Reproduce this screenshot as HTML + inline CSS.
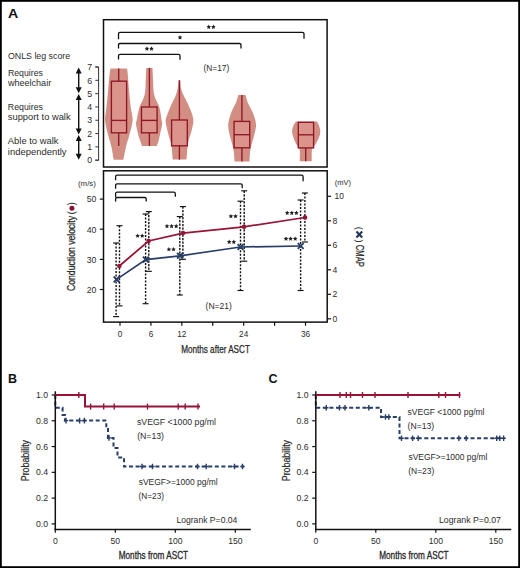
<!DOCTYPE html><html><head><meta charset="utf-8"><style>
html,body{margin:0;padding:0;background:#fff;}
svg{display:block;}
text{font-family:"Liberation Sans", sans-serif;}
</style></head><body>
<svg width="520" height="568" viewBox="0 0 520 568">
<rect x="0" y="0" width="520" height="568" fill="#fff"/>
<text x="8" y="18.2" font-size="13.2" text-anchor="start" fill="#111" font-weight="bold" textLength="10.2" lengthAdjust="spacingAndGlyphs" >A</text>
<path d="M127.10,68.40 C127.22,69.47 127.50,71.28 127.80,74.80 C128.10,78.32 128.40,84.00 128.90,89.50 C129.40,95.00 130.18,102.62 130.80,107.80 C131.42,112.98 132.85,116.02 132.60,120.60 C132.35,125.18 130.40,130.95 129.30,135.30 C128.20,139.65 126.98,142.62 126.00,146.70 C125.02,150.78 123.83,157.62 123.40,159.80 L113.70,159.80 C113.32,157.62 112.32,150.78 111.40,146.70 C110.48,142.62 109.25,139.65 108.20,135.30 C107.15,130.95 105.40,125.18 105.10,120.60 C104.80,116.02 105.88,112.98 106.40,107.80 C106.92,102.62 107.68,95.00 108.20,89.50 C108.72,84.00 109.10,78.32 109.50,74.80 C109.90,71.28 110.42,69.47 110.60,68.40Z" fill="#d38e84"/>
<path d="M152.50,67.90 C152.60,69.97 152.92,76.40 153.10,80.30 C153.28,84.20 153.22,88.25 153.60,91.30 C153.98,94.35 154.42,95.85 155.40,98.60 C156.38,101.35 158.45,104.13 159.50,107.80 C160.55,111.47 161.25,117.85 161.70,120.60 C162.15,123.35 162.52,121.85 162.20,124.30 C161.88,126.75 160.40,132.55 159.80,135.30 C159.20,138.05 159.12,139.03 158.60,140.80 C158.08,142.57 157.02,145.05 156.70,145.90 L142.00,145.90 C141.70,145.05 140.80,142.57 140.20,140.80 C139.60,139.03 139.10,138.05 138.40,135.30 C137.70,132.55 136.30,126.75 136.00,124.30 C135.70,121.85 136.05,123.35 136.60,120.60 C137.15,117.85 138.17,111.47 139.30,107.80 C140.43,104.13 142.42,101.35 143.40,98.60 C144.38,95.85 144.82,94.35 145.20,91.30 C145.58,88.25 145.52,84.20 145.70,80.30 C145.88,76.40 146.20,69.97 146.30,67.90Z" fill="#d38e84"/>
<path d="M180.40,80.30 C180.50,81.67 180.35,85.75 181.00,88.50 C181.65,91.25 183.07,94.05 184.30,96.80 C185.53,99.55 187.15,102.25 188.40,105.00 C189.65,107.75 190.97,110.67 191.80,113.30 C192.63,115.93 193.40,118.03 193.40,120.80 C193.40,123.57 192.48,127.02 191.80,129.90 C191.12,132.78 190.00,135.35 189.30,138.10 C188.60,140.85 188.07,142.82 187.60,146.40 C187.13,149.98 186.68,157.40 186.50,159.60 L172.70,159.60 C172.52,157.40 172.15,149.98 171.60,146.40 C171.05,142.82 170.12,140.85 169.40,138.10 C168.68,135.35 167.93,132.78 167.30,129.90 C166.67,127.02 165.52,123.57 165.60,120.80 C165.68,118.03 166.88,115.93 167.80,113.30 C168.72,110.67 169.87,107.75 171.10,105.00 C172.33,102.25 174.10,99.55 175.20,96.80 C176.30,94.05 177.13,91.25 177.70,88.50 C178.27,85.75 178.45,81.67 178.60,80.30Z" fill="#d38e84"/>
<path d="M245.60,95.10 C245.90,96.20 246.53,99.45 247.40,101.70 C248.27,103.95 249.72,106.30 250.80,108.60 C251.88,110.90 253.02,112.75 253.90,115.50 C254.78,118.25 256.03,121.90 256.10,125.10 C256.17,128.30 254.98,131.72 254.30,134.70 C253.62,137.68 252.68,140.25 252.00,143.00 C251.32,145.75 250.62,148.12 250.20,151.20 C249.78,154.28 249.62,159.78 249.50,161.50 L234.60,161.50 C234.45,159.78 234.15,154.28 233.70,151.20 C233.25,148.12 232.58,145.75 231.90,143.00 C231.22,140.25 230.22,137.68 229.60,134.70 C228.98,131.72 228.10,128.30 228.20,125.10 C228.30,121.90 229.40,118.25 230.20,115.50 C231.00,112.75 231.97,110.90 233.00,108.60 C234.03,106.30 235.53,103.95 236.40,101.70 C237.27,99.45 237.90,96.20 238.20,95.10Z" fill="#d38e84"/>
<path d="M317.00,121.60 C317.33,122.30 318.45,124.20 319.00,125.80 C319.55,127.40 320.30,129.23 320.30,131.20 C320.30,133.17 319.72,135.55 319.00,137.60 C318.28,139.65 317.07,141.78 316.00,143.50 C314.93,145.22 313.30,146.73 312.60,147.90 C311.90,149.07 311.93,148.28 311.80,150.50 C311.67,152.72 311.80,159.42 311.80,161.20 L299.80,161.20 C299.80,159.42 299.97,152.72 299.80,150.50 C299.63,148.28 299.45,149.07 298.80,147.90 C298.15,146.73 296.80,145.22 295.90,143.50 C295.00,141.78 294.03,139.65 293.40,137.60 C292.77,135.55 292.10,133.17 292.10,131.20 C292.10,129.23 292.77,127.40 293.40,125.80 C294.03,124.20 295.48,122.30 295.90,121.60Z" fill="#d38e84"/>
<rect x="111.4" y="81.2" width="15.20" height="51.60" fill="#ec9c95" fill-opacity="0.4" stroke="#8f1727" stroke-width="1.35"/>
<line x1="111.4" y1="120.4" x2="126.6" y2="120.4" stroke="#8f1727" stroke-width="1.35"/>
<line x1="118.7" y1="68.4" x2="118.7" y2="81.2" stroke="#8f1727" stroke-width="1.35"/>
<line x1="118.7" y1="132.8" x2="118.7" y2="145.9" stroke="#8f1727" stroke-width="1.35"/>
<rect x="141.5" y="107.0" width="15.60" height="25.80" fill="#ec9c95" fill-opacity="0.4" stroke="#8f1727" stroke-width="1.35"/>
<line x1="141.5" y1="120.4" x2="157.1" y2="120.4" stroke="#8f1727" stroke-width="1.35"/>
<line x1="149.4" y1="67.9" x2="149.4" y2="107.0" stroke="#8f1727" stroke-width="1.35"/>
<line x1="149.4" y1="132.8" x2="149.4" y2="145.9" stroke="#8f1727" stroke-width="1.35"/>
<rect x="171.6" y="120.0" width="15.70" height="25.80" fill="#ec9c95" fill-opacity="0.4" stroke="#8f1727" stroke-width="1.35"/>
<line x1="179.4" y1="80.3" x2="179.4" y2="120.0" stroke="#8f1727" stroke-width="1.35"/>
<line x1="179.4" y1="145.8" x2="179.4" y2="159.6" stroke="#8f1727" stroke-width="1.35"/>
<rect x="234.1" y="121.4" width="15.60" height="26.40" fill="#ec9c95" fill-opacity="0.4" stroke="#8f1727" stroke-width="1.35"/>
<line x1="234.1" y1="134.7" x2="249.7" y2="134.7" stroke="#8f1727" stroke-width="1.35"/>
<line x1="241.9" y1="95.1" x2="241.9" y2="121.4" stroke="#8f1727" stroke-width="1.35"/>
<line x1="241.9" y1="147.8" x2="241.9" y2="161.5" stroke="#8f1727" stroke-width="1.35"/>
<rect x="298.3" y="122.3" width="15.30" height="25.60" fill="#ec9c95" fill-opacity="0.4" stroke="#8f1727" stroke-width="1.35"/>
<line x1="298.3" y1="134.8" x2="313.6" y2="134.8" stroke="#8f1727" stroke-width="1.35"/>
<line x1="305.7" y1="147.9" x2="305.7" y2="161.2" stroke="#8f1727" stroke-width="1.35"/>
<rect x="103.5" y="19.7" width="223.6" height="147.3" fill="none" stroke="#111" stroke-width="1.5"/>
<path d="M118.5,39.3 V33.8 Q118.5,32.3 120.0,32.3 H302.5 Q304,32.3 304,33.8 V38.8" fill="none" stroke="#111" stroke-width="1.3"/>
<path d="M118.5,48.5 V45.0 Q118.5,43.5 120.0,43.5 H239.5 Q241,43.5 241,45.0 V48.5" fill="none" stroke="#111" stroke-width="1.3"/>
<path d="M118.5,59.4 V55.9 Q118.5,54.4 120.0,54.4 H178.5 Q180,54.4 180,55.9 V59.699999999999996" fill="none" stroke="#111" stroke-width="1.3"/>
<polygon points="208.80,24.60 209.51,26.03 211.08,26.26 209.94,27.37 210.21,28.94 208.80,28.20 207.39,28.94 207.66,27.37 206.52,26.26 208.09,26.03" fill="#222"/><polygon points="213.40,24.60 214.11,26.03 215.68,26.26 214.54,27.37 214.81,28.94 213.40,28.20 211.99,28.94 212.26,27.37 211.12,26.26 212.69,26.03" fill="#222"/>
<polygon points="180.00,35.10 180.71,36.53 182.28,36.76 181.14,37.87 181.41,39.44 180.00,38.70 178.59,39.44 178.86,37.87 177.72,36.76 179.29,36.53" fill="#222"/>
<polygon points="146.90,46.30 147.61,47.73 149.18,47.96 148.04,49.07 148.31,50.64 146.90,49.90 145.49,50.64 145.76,49.07 144.62,47.96 146.19,47.73" fill="#222"/><polygon points="151.50,46.30 152.21,47.73 153.78,47.96 152.64,49.07 152.91,50.64 151.50,49.90 150.09,50.64 150.36,49.07 149.22,47.96 150.79,47.73" fill="#222"/>
<text x="203.5" y="70.8" font-size="8.6" text-anchor="start" fill="#2b2b2b" font-weight="normal" textLength="25.7" lengthAdjust="spacingAndGlyphs" >(N=17)</text>
<path d="M95.3,67 H98.6 V160.2 H95.3" fill="none" stroke="#333" stroke-width="1"/>
<line x1="95.3" y1="160.20" x2="98.6" y2="160.20" stroke="#333" stroke-width="1"/>
<text x="92.2" y="163.39999999999998" font-size="8.8" text-anchor="end" fill="#2b2b2b" font-weight="normal" >0</text>
<line x1="95.3" y1="146.89" x2="98.6" y2="146.89" stroke="#333" stroke-width="1"/>
<text x="92.2" y="150.08571428571426" font-size="8.8" text-anchor="end" fill="#2b2b2b" font-weight="normal" >1</text>
<line x1="95.3" y1="133.57" x2="98.6" y2="133.57" stroke="#333" stroke-width="1"/>
<text x="92.2" y="136.77142857142854" font-size="8.8" text-anchor="end" fill="#2b2b2b" font-weight="normal" >2</text>
<line x1="95.3" y1="120.26" x2="98.6" y2="120.26" stroke="#333" stroke-width="1"/>
<text x="92.2" y="123.45714285714286" font-size="8.8" text-anchor="end" fill="#2b2b2b" font-weight="normal" >3</text>
<line x1="95.3" y1="106.94" x2="98.6" y2="106.94" stroke="#333" stroke-width="1"/>
<text x="92.2" y="110.14285714285714" font-size="8.8" text-anchor="end" fill="#2b2b2b" font-weight="normal" >4</text>
<line x1="95.3" y1="93.63" x2="98.6" y2="93.63" stroke="#333" stroke-width="1"/>
<text x="92.2" y="96.82857142857142" font-size="8.8" text-anchor="end" fill="#2b2b2b" font-weight="normal" >5</text>
<line x1="95.3" y1="80.31" x2="98.6" y2="80.31" stroke="#333" stroke-width="1"/>
<text x="92.2" y="83.51428571428572" font-size="8.8" text-anchor="end" fill="#2b2b2b" font-weight="normal" >6</text>
<line x1="95.3" y1="67.00" x2="98.6" y2="67.00" stroke="#333" stroke-width="1"/>
<text x="92.2" y="70.20000000000002" font-size="8.8" text-anchor="end" fill="#2b2b2b" font-weight="normal" >7</text>
<line x1="78.7" y1="72.9" x2="78.7" y2="87.7" stroke="#111" stroke-width="1.4"/><polygon points="78.7,67.4 75.7,73.4 81.7,73.4" fill="#111"/><polygon points="78.7,93.2 75.7,87.2 81.7,87.2" fill="#111"/>
<line x1="78.7" y1="99.5" x2="78.7" y2="129.0" stroke="#111" stroke-width="1.4"/><polygon points="78.7,94.0 75.7,100.0 81.7,100.0" fill="#111"/><polygon points="78.7,134.5 75.7,128.5 81.7,128.5" fill="#111"/>
<line x1="78.7" y1="140.5" x2="78.7" y2="154.3" stroke="#111" stroke-width="1.4"/><polygon points="78.7,135.0 75.7,141.0 81.7,141.0" fill="#111"/><polygon points="78.7,159.8 75.7,153.8 81.7,153.8" fill="#111"/>
<text x="7.9" y="59.1" font-size="9" text-anchor="start" fill="#2b2b2b" font-weight="normal" textLength="62.3" lengthAdjust="spacingAndGlyphs" >ONLS leg score</text>
<text x="7.9" y="75.5" font-size="9" text-anchor="start" fill="#2b2b2b" font-weight="normal" textLength="35" lengthAdjust="spacingAndGlyphs" >Requires</text>
<text x="7.9" y="86.3" font-size="9" text-anchor="start" fill="#2b2b2b" font-weight="normal" textLength="43.3" lengthAdjust="spacingAndGlyphs" >wheelchair</text>
<text x="7.8" y="109.5" font-size="9" text-anchor="start" fill="#2b2b2b" font-weight="normal" textLength="35.2" lengthAdjust="spacingAndGlyphs" >Requires</text>
<text x="7.8" y="120.2" font-size="9" text-anchor="start" fill="#2b2b2b" font-weight="normal" textLength="62.8" lengthAdjust="spacingAndGlyphs" >support to walk</text>
<text x="7.8" y="144.2" font-size="9" text-anchor="start" fill="#2b2b2b" font-weight="normal" textLength="50.7" lengthAdjust="spacingAndGlyphs" >Able to walk</text>
<text x="7.8" y="155.0" font-size="9" text-anchor="start" fill="#2b2b2b" font-weight="normal" textLength="58.8" lengthAdjust="spacingAndGlyphs" >independently</text>
<rect x="103.5" y="170.8" width="223.7" height="151.3" fill="none" stroke="#111" stroke-width="1.5"/>
<path d="M115.6,180.2 V176.7 Q115.6,175.2 117.1,175.2 H301.6 Q303.1,175.2 303.1,176.7 V181.2" fill="none" stroke="#111" stroke-width="1.3"/>
<path d="M115.6,188.8 V185.3 Q115.6,183.8 117.1,183.8 H240.7 Q242.2,183.8 242.2,185.3 V188.3" fill="none" stroke="#111" stroke-width="1.3"/>
<path d="M115.6,197.2 V193.7 Q115.6,192.2 117.1,192.2 H173.8 Q175.3,192.2 175.3,193.7 V196.7" fill="none" stroke="#111" stroke-width="1.3"/>
<path d="M115.6,201.5 V199.0 Q115.6,197.5 117.1,197.5 H144.7 Q146.2,197.5 146.2,199.0 V201.5" fill="none" stroke="#111" stroke-width="1.3"/>
<line x1="99.8" y1="199.1" x2="103.5" y2="199.1" stroke="#111" stroke-width="1.2"/>
<text x="96.3" y="202.4" font-size="9.2" text-anchor="end" fill="#2b2b2b" font-weight="normal" textLength="9.6" lengthAdjust="spacingAndGlyphs" >50</text>
<line x1="99.8" y1="229.2" x2="103.5" y2="229.2" stroke="#111" stroke-width="1.2"/>
<text x="96.3" y="232.5" font-size="9.2" text-anchor="end" fill="#2b2b2b" font-weight="normal" textLength="9.6" lengthAdjust="spacingAndGlyphs" >40</text>
<line x1="99.8" y1="259.4" x2="103.5" y2="259.4" stroke="#111" stroke-width="1.2"/>
<text x="96.3" y="262.7" font-size="9.2" text-anchor="end" fill="#2b2b2b" font-weight="normal" textLength="9.6" lengthAdjust="spacingAndGlyphs" >30</text>
<line x1="99.8" y1="289.5" x2="103.5" y2="289.5" stroke="#111" stroke-width="1.2"/>
<text x="96.3" y="292.8" font-size="9.2" text-anchor="end" fill="#2b2b2b" font-weight="normal" textLength="9.6" lengthAdjust="spacingAndGlyphs" >20</text>
<text x="78" y="185.6" font-size="8" text-anchor="start" fill="#2b2b2b" font-weight="normal" textLength="17.9" lengthAdjust="spacingAndGlyphs" >(m/s)</text>
<line x1="327.2" y1="318.80" x2="331.0" y2="318.80" stroke="#111" stroke-width="1.2"/>
<text x="332.6" y="321.90000000000003" font-size="8.6" text-anchor="start" fill="#2b2b2b" font-weight="normal" >0</text>
<line x1="327.2" y1="294.30" x2="331.0" y2="294.30" stroke="#111" stroke-width="1.2"/>
<text x="332.6" y="297.40000000000003" font-size="8.6" text-anchor="start" fill="#2b2b2b" font-weight="normal" >2</text>
<line x1="327.2" y1="269.80" x2="331.0" y2="269.80" stroke="#111" stroke-width="1.2"/>
<text x="332.6" y="272.90000000000003" font-size="8.6" text-anchor="start" fill="#2b2b2b" font-weight="normal" >4</text>
<line x1="327.2" y1="245.30" x2="331.0" y2="245.30" stroke="#111" stroke-width="1.2"/>
<text x="332.6" y="248.4" font-size="8.6" text-anchor="start" fill="#2b2b2b" font-weight="normal" >6</text>
<line x1="327.2" y1="220.80" x2="331.0" y2="220.80" stroke="#111" stroke-width="1.2"/>
<text x="332.6" y="223.9" font-size="8.6" text-anchor="start" fill="#2b2b2b" font-weight="normal" >8</text>
<line x1="327.2" y1="196.30" x2="331.0" y2="196.30" stroke="#111" stroke-width="1.2"/>
<text x="334.6" y="199.4" font-size="8.6" text-anchor="start" fill="#2b2b2b" font-weight="normal" textLength="9.4" lengthAdjust="spacingAndGlyphs" >10</text>
<text x="334.7" y="185.3" font-size="8" text-anchor="start" fill="#2b2b2b" font-weight="normal" textLength="16.3" lengthAdjust="spacingAndGlyphs" >(mV)</text>
<line x1="120.00" y1="322" x2="120.00" y2="325.8" stroke="#111" stroke-width="1.2"/>
<text x="120.00" y="337" font-size="8.2" text-anchor="middle" fill="#2b2b2b" font-weight="normal" >0</text>
<line x1="150.92" y1="322" x2="150.92" y2="325.8" stroke="#111" stroke-width="1.2"/>
<text x="150.92" y="337" font-size="8.2" text-anchor="middle" fill="#2b2b2b" font-weight="normal" >6</text>
<line x1="181.84" y1="322" x2="181.84" y2="325.8" stroke="#111" stroke-width="1.2"/>
<text x="181.84" y="337" font-size="8.2" text-anchor="middle" fill="#2b2b2b" font-weight="normal" >12</text>
<line x1="212.75" y1="322" x2="212.75" y2="325.8" stroke="#111" stroke-width="1.2"/>
<line x1="243.67" y1="322" x2="243.67" y2="325.8" stroke="#111" stroke-width="1.2"/>
<text x="243.67" y="337" font-size="8.2" text-anchor="middle" fill="#2b2b2b" font-weight="normal" >24</text>
<line x1="274.59" y1="322" x2="274.59" y2="325.8" stroke="#111" stroke-width="1.2"/>
<line x1="305.51" y1="322" x2="305.51" y2="325.8" stroke="#111" stroke-width="1.2"/>
<text x="305.51" y="337" font-size="8.2" text-anchor="middle" fill="#2b2b2b" font-weight="normal" >36</text>
<text x="181.2" y="352.8" font-size="10.2" text-anchor="start" fill="#2b2b2b" font-weight="normal" textLength="68.7" lengthAdjust="spacingAndGlyphs" stroke="#222" stroke-width="0.25">Months after ASCT</text>
<g transform="translate(75.2,291) rotate(-90)"><text x="0" y="0" font-size="10" text-anchor="start" fill="#2b2b2b" font-weight="normal" textLength="75" lengthAdjust="spacingAndGlyphs" stroke="#222" stroke-width="0.25">Conduction velocity</text></g>
<g transform="translate(75.2,214.6) rotate(-90)"><text x="0" y="0" font-size="10" text-anchor="start" fill="#2b2b2b" font-weight="normal" >(</text></g>
<g transform="translate(75.2,205.4) rotate(-90)"><text x="0" y="0" font-size="10" text-anchor="start" fill="#2b2b2b" font-weight="normal" >)</text></g>
<circle cx="71.9" cy="208.3" r="2.5" fill="#8a1230"/>
<g transform="translate(355.5,244.7) rotate(90)"><text x="0" y="0" font-size="10" text-anchor="start" fill="#2b2b2b" font-weight="normal" textLength="22.2" lengthAdjust="spacingAndGlyphs" stroke="#222" stroke-width="0.25">CMAP</text></g>
<g transform="translate(355.5,226.8) rotate(90)"><text x="0" y="0" font-size="9.5" text-anchor="start" fill="#2b2b2b" font-weight="normal" >(</text></g>
<g transform="translate(355.5,239.4) rotate(90)"><text x="0" y="0" font-size="9.5" text-anchor="start" fill="#2b2b2b" font-weight="normal" >)</text></g>
<path d="M356.4,231.6 L362.2,237.4 M362.2,231.6 L356.4,237.4" stroke="#22355a" stroke-width="2.1"/>
<text x="205.6" y="308.7" font-size="8.6" text-anchor="start" fill="#2b2b2b" font-weight="normal" textLength="26.2" lengthAdjust="spacingAndGlyphs" >(N=21)</text>
<line x1="119.5" y1="225.7" x2="119.5" y2="305.9" stroke="#111" stroke-width="1.4" stroke-dasharray="2.1 1.4"/><line x1="116.5" y1="225.7" x2="122.5" y2="225.7" stroke="#111" stroke-width="1.15"/><line x1="116.5" y1="305.9" x2="122.5" y2="305.9" stroke="#111" stroke-width="1.15"/>
<line x1="148.8" y1="211.6" x2="148.8" y2="271.3" stroke="#111" stroke-width="1.4" stroke-dasharray="2.1 1.4"/><line x1="145.8" y1="211.6" x2="151.8" y2="211.6" stroke="#111" stroke-width="1.15"/><line x1="145.8" y1="271.3" x2="151.8" y2="271.3" stroke="#111" stroke-width="1.15"/>
<line x1="182.9" y1="206.6" x2="182.9" y2="259.3" stroke="#111" stroke-width="1.4" stroke-dasharray="2.1 1.4"/><line x1="179.9" y1="206.6" x2="185.9" y2="206.6" stroke="#111" stroke-width="1.15"/><line x1="179.9" y1="259.3" x2="185.9" y2="259.3" stroke="#111" stroke-width="1.15"/>
<line x1="244.2" y1="190.8" x2="244.2" y2="261.2" stroke="#111" stroke-width="1.4" stroke-dasharray="2.1 1.4"/><line x1="241.2" y1="190.8" x2="247.2" y2="190.8" stroke="#111" stroke-width="1.15"/><line x1="241.2" y1="261.2" x2="247.2" y2="261.2" stroke="#111" stroke-width="1.15"/>
<line x1="304.9" y1="193" x2="304.9" y2="242" stroke="#111" stroke-width="1.4" stroke-dasharray="2.1 1.4"/><line x1="301.9" y1="193" x2="307.9" y2="193" stroke="#111" stroke-width="1.15"/><line x1="301.9" y1="242" x2="307.9" y2="242" stroke="#111" stroke-width="1.15"/>
<line x1="116.1" y1="243" x2="116.1" y2="316.6" stroke="#111" stroke-width="1.4" stroke-dasharray="2.1 1.4"/><line x1="113.1" y1="243" x2="119.1" y2="243" stroke="#111" stroke-width="1.15"/><line x1="113.1" y1="316.6" x2="119.1" y2="316.6" stroke="#111" stroke-width="1.15"/>
<line x1="145.6" y1="214" x2="145.6" y2="303.7" stroke="#111" stroke-width="1.4" stroke-dasharray="2.1 1.4"/><line x1="142.6" y1="214" x2="148.6" y2="214" stroke="#111" stroke-width="1.15"/><line x1="142.6" y1="303.7" x2="148.6" y2="303.7" stroke="#111" stroke-width="1.15"/>
<line x1="179.8" y1="216.6" x2="179.8" y2="295" stroke="#111" stroke-width="1.4" stroke-dasharray="2.1 1.4"/><line x1="176.8" y1="216.6" x2="182.8" y2="216.6" stroke="#111" stroke-width="1.15"/><line x1="176.8" y1="295" x2="182.8" y2="295" stroke="#111" stroke-width="1.15"/>
<line x1="240.5" y1="201.2" x2="240.5" y2="290.5" stroke="#111" stroke-width="1.4" stroke-dasharray="2.1 1.4"/><line x1="237.5" y1="201.2" x2="243.5" y2="201.2" stroke="#111" stroke-width="1.15"/><line x1="237.5" y1="290.5" x2="243.5" y2="290.5" stroke="#111" stroke-width="1.15"/>
<line x1="300.6" y1="200" x2="300.6" y2="290.5" stroke="#111" stroke-width="1.4" stroke-dasharray="2.1 1.4"/><line x1="297.6" y1="200" x2="303.6" y2="200" stroke="#111" stroke-width="1.15"/><line x1="297.6" y1="290.5" x2="303.6" y2="290.5" stroke="#111" stroke-width="1.15"/>
<polyline points="119.3,266 148.6,241 183,233.1 244,226.8 305,217.5" fill="none" stroke="#961436" stroke-width="1.75"/>
<polyline points="116.6,279.4 145.8,259.6 180,255.8 240.5,247.0 300.7,246.0" fill="none" stroke="#283e66" stroke-width="1.75"/>
<circle cx="119.3" cy="266" r="2.3" fill="#961436"/>
<circle cx="148.6" cy="241" r="2.3" fill="#961436"/>
<circle cx="183" cy="233.1" r="2.3" fill="#961436"/>
<circle cx="244" cy="226.8" r="2.3" fill="#961436"/>
<circle cx="305" cy="217.5" r="2.3" fill="#961436"/>
<path d="M113.69999999999999,276.5 L119.5,282.29999999999995 M119.5,276.5 L113.69999999999999,282.29999999999995" stroke="#283e66" stroke-width="1.9"/>
<path d="M142.9,256.70000000000005 L148.70000000000002,262.5 M148.70000000000002,256.70000000000005 L142.9,262.5" stroke="#283e66" stroke-width="1.9"/>
<path d="M177.1,252.9 L182.9,258.7 M182.9,252.9 L177.1,258.7" stroke="#283e66" stroke-width="1.9"/>
<path d="M237.6,244.1 L243.4,249.9 M243.4,244.1 L237.6,249.9" stroke="#283e66" stroke-width="1.9"/>
<path d="M297.8,243.1 L303.59999999999997,248.9 M303.59999999999997,243.1 L297.8,248.9" stroke="#283e66" stroke-width="1.9"/>
<polygon points="137.60,233.50 138.31,234.93 139.88,235.16 138.74,236.27 139.01,237.84 137.60,237.10 136.19,237.84 136.46,236.27 135.32,235.16 136.89,234.93" fill="#222"/><polygon points="142.20,233.50 142.91,234.93 144.48,235.16 143.34,236.27 143.61,237.84 142.20,237.10 140.79,237.84 141.06,236.27 139.92,235.16 141.49,234.93" fill="#222"/>
<polygon points="167.00,223.80 167.71,225.23 169.28,225.46 168.14,226.57 168.41,228.14 167.00,227.40 165.59,228.14 165.86,226.57 164.72,225.46 166.29,225.23" fill="#222"/><polygon points="171.60,223.80 172.31,225.23 173.88,225.46 172.74,226.57 173.01,228.14 171.60,227.40 170.19,228.14 170.46,226.57 169.32,225.46 170.89,225.23" fill="#222"/><polygon points="176.20,223.80 176.91,225.23 178.48,225.46 177.34,226.57 177.61,228.14 176.20,227.40 174.79,228.14 175.06,226.57 173.92,225.46 175.49,225.23" fill="#222"/>
<polygon points="168.90,247.00 169.61,248.43 171.18,248.66 170.04,249.77 170.31,251.34 168.90,250.60 167.49,251.34 167.76,249.77 166.62,248.66 168.19,248.43" fill="#222"/><polygon points="173.50,247.00 174.21,248.43 175.78,248.66 174.64,249.77 174.91,251.34 173.50,250.60 172.09,251.34 172.36,249.77 171.22,248.66 172.79,248.43" fill="#222"/>
<polygon points="230.90,213.90 231.61,215.33 233.18,215.56 232.04,216.67 232.31,218.24 230.90,217.50 229.49,218.24 229.76,216.67 228.62,215.56 230.19,215.33" fill="#222"/><polygon points="235.50,213.90 236.21,215.33 237.78,215.56 236.64,216.67 236.91,218.24 235.50,217.50 234.09,218.24 234.36,216.67 233.22,215.56 234.79,215.33" fill="#222"/>
<polygon points="229.20,239.60 229.91,241.03 231.48,241.26 230.34,242.37 230.61,243.94 229.20,243.20 227.79,243.94 228.06,242.37 226.92,241.26 228.49,241.03" fill="#222"/><polygon points="233.80,239.60 234.51,241.03 236.08,241.26 234.94,242.37 235.21,243.94 233.80,243.20 232.39,243.94 232.66,242.37 231.52,241.26 233.09,241.03" fill="#222"/>
<polygon points="287.20,210.60 287.91,212.03 289.48,212.26 288.34,213.37 288.61,214.94 287.20,214.20 285.79,214.94 286.06,213.37 284.92,212.26 286.49,212.03" fill="#222"/><polygon points="291.80,210.60 292.51,212.03 294.08,212.26 292.94,213.37 293.21,214.94 291.80,214.20 290.39,214.94 290.66,213.37 289.52,212.26 291.09,212.03" fill="#222"/><polygon points="296.40,210.60 297.11,212.03 298.68,212.26 297.54,213.37 297.81,214.94 296.40,214.20 294.99,214.94 295.26,213.37 294.12,212.26 295.69,212.03" fill="#222"/>
<polygon points="286.00,236.40 286.71,237.83 288.28,238.06 287.14,239.17 287.41,240.74 286.00,240.00 284.59,240.74 284.86,239.17 283.72,238.06 285.29,237.83" fill="#222"/><polygon points="290.60,236.40 291.31,237.83 292.88,238.06 291.74,239.17 292.01,240.74 290.60,240.00 289.19,240.74 289.46,239.17 288.32,238.06 289.89,237.83" fill="#222"/><polygon points="295.20,236.40 295.91,237.83 297.48,238.06 296.34,239.17 296.61,240.74 295.20,240.00 293.79,240.74 294.06,239.17 292.92,238.06 294.49,237.83" fill="#222"/>
<text x="8.0" y="383.2" font-size="12.5" text-anchor="start" fill="#111" font-weight="bold" >B</text>
<path d="M55.3,395 V407.8 H62.6 V415 H65 V420.6 H106.3 V428 H108 V437.9 H113.5 V448 H117.5 V457.5 H124 V466.5 H244" fill="none" stroke="#283e66" stroke-width="2" stroke-dasharray="4 2.6"/>
<line x1="55.3" y1="391.3" x2="55.3" y2="530.1" stroke="#111" stroke-width="1.5"/>
<line x1="54.55" y1="529.4" x2="250.8" y2="529.4" stroke="#111" stroke-width="1.5"/>
<line x1="51.699999999999996" y1="523.90" x2="55.3" y2="523.90" stroke="#111" stroke-width="1.2"/>
<text x="48.0" y="526.9" font-size="8.6" text-anchor="end" fill="#2b2b2b" font-weight="normal" textLength="12.1" lengthAdjust="spacingAndGlyphs" >0.0</text>
<line x1="51.699999999999996" y1="498.12" x2="55.3" y2="498.12" stroke="#111" stroke-width="1.2"/>
<text x="48.0" y="501.12" font-size="8.6" text-anchor="end" fill="#2b2b2b" font-weight="normal" textLength="12.1" lengthAdjust="spacingAndGlyphs" >0.2</text>
<line x1="51.699999999999996" y1="472.34" x2="55.3" y2="472.34" stroke="#111" stroke-width="1.2"/>
<text x="48.0" y="475.34" font-size="8.6" text-anchor="end" fill="#2b2b2b" font-weight="normal" textLength="12.1" lengthAdjust="spacingAndGlyphs" >0.4</text>
<line x1="51.699999999999996" y1="446.56" x2="55.3" y2="446.56" stroke="#111" stroke-width="1.2"/>
<text x="48.0" y="449.55999999999995" font-size="8.6" text-anchor="end" fill="#2b2b2b" font-weight="normal" textLength="12.1" lengthAdjust="spacingAndGlyphs" >0.6</text>
<line x1="51.699999999999996" y1="420.78" x2="55.3" y2="420.78" stroke="#111" stroke-width="1.2"/>
<text x="48.0" y="423.78" font-size="8.6" text-anchor="end" fill="#2b2b2b" font-weight="normal" textLength="12.1" lengthAdjust="spacingAndGlyphs" >0.8</text>
<line x1="51.699999999999996" y1="395.00" x2="55.3" y2="395.00" stroke="#111" stroke-width="1.2"/>
<text x="48.0" y="398.0" font-size="8.6" text-anchor="end" fill="#2b2b2b" font-weight="normal" textLength="12.1" lengthAdjust="spacingAndGlyphs" >1.0</text>
<line x1="55.30" y1="529.4" x2="55.30" y2="532.8" stroke="#111" stroke-width="1.2"/>
<text x="55.30" y="544.0" font-size="8.6" text-anchor="middle" fill="#2b2b2b" font-weight="normal" >0</text>
<line x1="115.30" y1="529.4" x2="115.30" y2="532.8" stroke="#111" stroke-width="1.2"/>
<text x="115.30" y="544.0" font-size="8.6" text-anchor="middle" fill="#2b2b2b" font-weight="normal" >50</text>
<line x1="175.30" y1="529.4" x2="175.30" y2="532.8" stroke="#111" stroke-width="1.2"/>
<text x="175.30" y="544.0" font-size="8.6" text-anchor="middle" fill="#2b2b2b" font-weight="normal" >100</text>
<line x1="235.30" y1="529.4" x2="235.30" y2="532.8" stroke="#111" stroke-width="1.2"/>
<text x="235.30" y="544.0" font-size="8.6" text-anchor="middle" fill="#2b2b2b" font-weight="normal" >150</text>
<text x="118.69999999999999" y="559.2" font-size="10.5" text-anchor="start" fill="#2b2b2b" font-weight="normal" textLength="69.4" lengthAdjust="spacingAndGlyphs" stroke="#222" stroke-width="0.3">Months from ASCT</text>
<g transform="translate(29.299999999999997,481.2) rotate(-90)"><text x="0" y="0" font-size="10.4" text-anchor="start" fill="#2b2b2b" font-weight="normal" textLength="41.2" lengthAdjust="spacingAndGlyphs" stroke="#222" stroke-width="0.2">Probability</text></g>
<text x="176.4" y="522.5" font-size="8.3" text-anchor="start" fill="#2b2b2b" font-weight="normal" textLength="61" lengthAdjust="spacingAndGlyphs" >Logrank P=0.04</text>
<path d="M55.3,395 H85 V406.6 H200" fill="none" stroke="#961436" stroke-width="2"/>
<line x1="78.8" y1="392" x2="78.8" y2="398" stroke="#961436" stroke-width="1.4"/>
<line x1="90.6" y1="403.6" x2="90.6" y2="409.6" stroke="#961436" stroke-width="1.4"/>
<line x1="103.7" y1="403.6" x2="103.7" y2="409.6" stroke="#961436" stroke-width="1.4"/>
<line x1="114.2" y1="403.6" x2="114.2" y2="409.6" stroke="#961436" stroke-width="1.4"/>
<line x1="147.5" y1="403.6" x2="147.5" y2="409.6" stroke="#961436" stroke-width="1.4"/>
<line x1="178.2" y1="403.6" x2="178.2" y2="409.6" stroke="#961436" stroke-width="1.4"/>
<line x1="185.2" y1="403.6" x2="185.2" y2="409.6" stroke="#961436" stroke-width="1.4"/>
<line x1="198" y1="403.6" x2="198" y2="409.6" stroke="#961436" stroke-width="1.4"/>
<path d="M66,417.8 V423.40000000000003 M63.8,420.6 H68.2" stroke="#283e66" stroke-width="1.4"/>
<path d="M79.6,417.8 V423.40000000000003 M77.39999999999999,420.6 H81.8" stroke="#283e66" stroke-width="1.4"/>
<path d="M84.4,417.8 V423.40000000000003 M82.2,420.6 H86.60000000000001" stroke="#283e66" stroke-width="1.4"/>
<path d="M109,435.09999999999997 V440.7 M106.8,437.9 H111.2" stroke="#283e66" stroke-width="1.4"/>
<path d="M142,463.7 V469.3 M139.8,466.5 H144.2" stroke="#283e66" stroke-width="1.4"/>
<path d="M152.5,463.7 V469.3 M150.3,466.5 H154.7" stroke="#283e66" stroke-width="1.4"/>
<path d="M197.5,463.7 V469.3 M195.3,466.5 H199.7" stroke="#283e66" stroke-width="1.4"/>
<path d="M206.2,463.7 V469.3 M204.0,466.5 H208.39999999999998" stroke="#283e66" stroke-width="1.4"/>
<path d="M234.5,463.7 V469.3 M232.3,466.5 H236.7" stroke="#283e66" stroke-width="1.4"/>
<path d="M242.5,463.7 V469.3 M240.3,466.5 H244.7" stroke="#283e66" stroke-width="1.4"/>
<text x="137" y="424.6" font-size="8.5" text-anchor="start" fill="#2b2b2b" font-weight="normal" textLength="79" lengthAdjust="spacingAndGlyphs" >sVEGF &lt;1000 pg/ml</text>
<text x="137.2" y="438.6" font-size="8.5" text-anchor="start" fill="#2b2b2b" font-weight="normal" textLength="26.8" lengthAdjust="spacingAndGlyphs" >(N=13)</text>
<text x="138.7" y="485.4" font-size="8.5" text-anchor="start" fill="#2b2b2b" font-weight="normal" textLength="79" lengthAdjust="spacingAndGlyphs" >sVEGF&gt;=1000 pg/ml</text>
<text x="138.5" y="499" font-size="8.5" text-anchor="start" fill="#2b2b2b" font-weight="normal" textLength="25.5" lengthAdjust="spacingAndGlyphs" >(N=23)</text>
<text x="268.5" y="383.2" font-size="12.5" text-anchor="start" fill="#111" font-weight="bold" >C</text>
<path d="M315.8,395 V407.8 H381 V417 H399.5 V438.3 H504.3" fill="none" stroke="#283e66" stroke-width="2" stroke-dasharray="4 2.6"/>
<line x1="315.8" y1="391.3" x2="315.8" y2="530.1" stroke="#111" stroke-width="1.5"/>
<line x1="315.05" y1="529.4" x2="511.3" y2="529.4" stroke="#111" stroke-width="1.5"/>
<line x1="312.2" y1="523.90" x2="315.8" y2="523.90" stroke="#111" stroke-width="1.2"/>
<text x="308.5" y="526.9" font-size="8.6" text-anchor="end" fill="#2b2b2b" font-weight="normal" textLength="12.1" lengthAdjust="spacingAndGlyphs" >0.0</text>
<line x1="312.2" y1="498.12" x2="315.8" y2="498.12" stroke="#111" stroke-width="1.2"/>
<text x="308.5" y="501.12" font-size="8.6" text-anchor="end" fill="#2b2b2b" font-weight="normal" textLength="12.1" lengthAdjust="spacingAndGlyphs" >0.2</text>
<line x1="312.2" y1="472.34" x2="315.8" y2="472.34" stroke="#111" stroke-width="1.2"/>
<text x="308.5" y="475.34" font-size="8.6" text-anchor="end" fill="#2b2b2b" font-weight="normal" textLength="12.1" lengthAdjust="spacingAndGlyphs" >0.4</text>
<line x1="312.2" y1="446.56" x2="315.8" y2="446.56" stroke="#111" stroke-width="1.2"/>
<text x="308.5" y="449.55999999999995" font-size="8.6" text-anchor="end" fill="#2b2b2b" font-weight="normal" textLength="12.1" lengthAdjust="spacingAndGlyphs" >0.6</text>
<line x1="312.2" y1="420.78" x2="315.8" y2="420.78" stroke="#111" stroke-width="1.2"/>
<text x="308.5" y="423.78" font-size="8.6" text-anchor="end" fill="#2b2b2b" font-weight="normal" textLength="12.1" lengthAdjust="spacingAndGlyphs" >0.8</text>
<line x1="312.2" y1="395.00" x2="315.8" y2="395.00" stroke="#111" stroke-width="1.2"/>
<text x="308.5" y="398.0" font-size="8.6" text-anchor="end" fill="#2b2b2b" font-weight="normal" textLength="12.1" lengthAdjust="spacingAndGlyphs" >1.0</text>
<line x1="315.80" y1="529.4" x2="315.80" y2="532.8" stroke="#111" stroke-width="1.2"/>
<text x="315.80" y="544.0" font-size="8.6" text-anchor="middle" fill="#2b2b2b" font-weight="normal" >0</text>
<line x1="375.80" y1="529.4" x2="375.80" y2="532.8" stroke="#111" stroke-width="1.2"/>
<text x="375.80" y="544.0" font-size="8.6" text-anchor="middle" fill="#2b2b2b" font-weight="normal" >50</text>
<line x1="435.80" y1="529.4" x2="435.80" y2="532.8" stroke="#111" stroke-width="1.2"/>
<text x="435.80" y="544.0" font-size="8.6" text-anchor="middle" fill="#2b2b2b" font-weight="normal" >100</text>
<line x1="495.80" y1="529.4" x2="495.80" y2="532.8" stroke="#111" stroke-width="1.2"/>
<text x="495.80" y="544.0" font-size="8.6" text-anchor="middle" fill="#2b2b2b" font-weight="normal" >150</text>
<text x="379.2" y="559.2" font-size="10.5" text-anchor="start" fill="#2b2b2b" font-weight="normal" textLength="69.4" lengthAdjust="spacingAndGlyphs" stroke="#222" stroke-width="0.3">Months from ASCT</text>
<g transform="translate(289.8,481.2) rotate(-90)"><text x="0" y="0" font-size="10.4" text-anchor="start" fill="#2b2b2b" font-weight="normal" textLength="41.2" lengthAdjust="spacingAndGlyphs" stroke="#222" stroke-width="0.2">Probability</text></g>
<text x="439" y="522.5" font-size="8.3" text-anchor="start" fill="#2b2b2b" font-weight="normal" textLength="62" lengthAdjust="spacingAndGlyphs" >Logrank P=0.07</text>
<path d="M315.8,395 H460.5" fill="none" stroke="#961436" stroke-width="2"/>
<line x1="340" y1="392" x2="340" y2="398" stroke="#961436" stroke-width="1.4"/>
<line x1="346.3" y1="392" x2="346.3" y2="398" stroke="#961436" stroke-width="1.4"/>
<line x1="350.5" y1="392" x2="350.5" y2="398" stroke="#961436" stroke-width="1.4"/>
<line x1="362.5" y1="392" x2="362.5" y2="398" stroke="#961436" stroke-width="1.4"/>
<line x1="375" y1="392" x2="375" y2="398" stroke="#961436" stroke-width="1.4"/>
<line x1="408" y1="392" x2="408" y2="398" stroke="#961436" stroke-width="1.4"/>
<line x1="438.8" y1="392" x2="438.8" y2="398" stroke="#961436" stroke-width="1.4"/>
<line x1="445.5" y1="392" x2="445.5" y2="398" stroke="#961436" stroke-width="1.4"/>
<line x1="459.5" y1="392" x2="459.5" y2="398" stroke="#961436" stroke-width="1.4"/>
<path d="M326.3,405.0 V410.6 M324.1,407.8 H328.5" stroke="#283e66" stroke-width="1.4"/>
<path d="M339.5,405.0 V410.6 M337.3,407.8 H341.7" stroke="#283e66" stroke-width="1.4"/>
<path d="M345,405.0 V410.6 M342.8,407.8 H347.2" stroke="#283e66" stroke-width="1.4"/>
<path d="M368.8,405.0 V410.6 M366.6,407.8 H371.0" stroke="#283e66" stroke-width="1.4"/>
<path d="M385.5,414.2 V419.8 M383.3,417 H387.7" stroke="#283e66" stroke-width="1.4"/>
<path d="M388.8,414.2 V419.8 M386.6,417 H391.0" stroke="#283e66" stroke-width="1.4"/>
<path d="M401.5,435.5 V441.1 M399.3,438.3 H403.7" stroke="#283e66" stroke-width="1.4"/>
<path d="M412.6,435.5 V441.1 M410.40000000000003,438.3 H414.8" stroke="#283e66" stroke-width="1.4"/>
<path d="M418.2,435.5 V441.1 M416.0,438.3 H420.4" stroke="#283e66" stroke-width="1.4"/>
<path d="M458.8,435.5 V441.1 M456.6,438.3 H461.0" stroke="#283e66" stroke-width="1.4"/>
<path d="M466.2,435.5 V441.1 M464.0,438.3 H468.4" stroke="#283e66" stroke-width="1.4"/>
<path d="M496.7,435.5 V441.1 M494.5,438.3 H498.9" stroke="#283e66" stroke-width="1.4"/>
<path d="M499.7,435.5 V441.1 M497.5,438.3 H501.9" stroke="#283e66" stroke-width="1.4"/>
<path d="M503.6,435.5 V441.1 M501.40000000000003,438.3 H505.8" stroke="#283e66" stroke-width="1.4"/>
<text x="407.5" y="415.4" font-size="8.5" text-anchor="start" fill="#2b2b2b" font-weight="normal" textLength="77" lengthAdjust="spacingAndGlyphs" >sVEGF &lt;1000 pg/ml</text>
<text x="407.6" y="429.3" font-size="8.5" text-anchor="start" fill="#2b2b2b" font-weight="normal" textLength="26.6" lengthAdjust="spacingAndGlyphs" >(N=13)</text>
<text x="408.5" y="459.8" font-size="8.5" text-anchor="start" fill="#2b2b2b" font-weight="normal" textLength="79" lengthAdjust="spacingAndGlyphs" >sVEGF&gt;=1000 pg/ml</text>
<text x="408.3" y="473.5" font-size="8.5" text-anchor="start" fill="#2b2b2b" font-weight="normal" textLength="26" lengthAdjust="spacingAndGlyphs" >(N=23)</text>
<rect x="0.9" y="0.9" width="518.2" height="566.2" fill="none" stroke="#000" stroke-width="1.8"/>
</svg></body></html>
